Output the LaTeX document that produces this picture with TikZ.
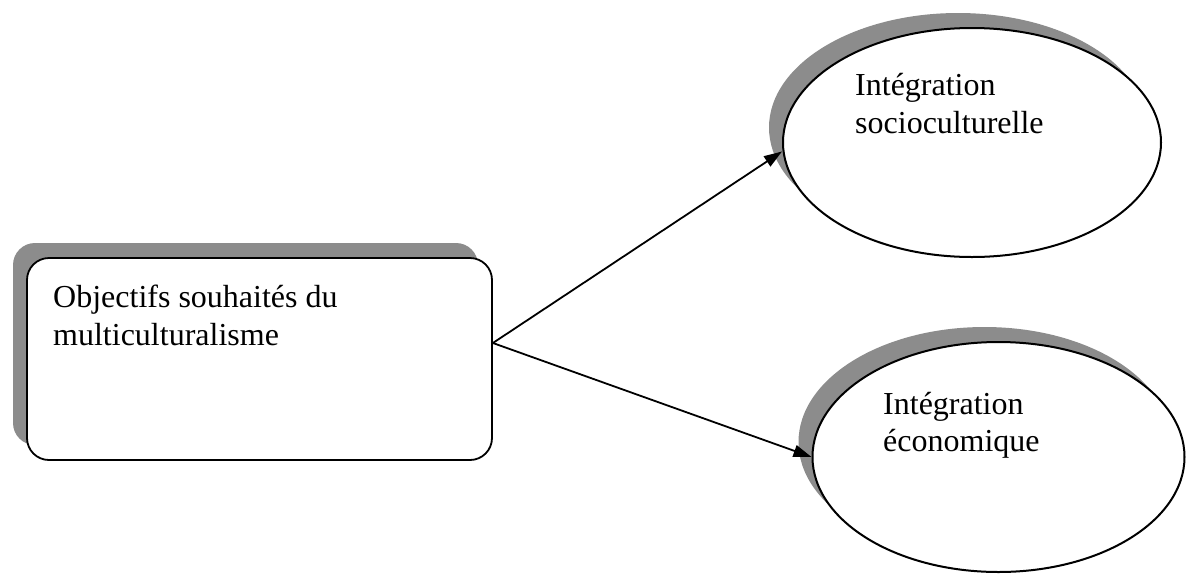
\documentclass[tikz,border=0pt]{standalone}
\usepackage{fontspec}
\setmainfont{Liberation Serif}
\usetikzlibrary{shapes.geometric,shadows,arrows.meta,calc}
\begin{document}
\begin{tikzpicture}[x=1pt,y=-1pt,
  shade/.style={general shadow={fill=black!45,shadow xshift=-14pt,shadow yshift=15pt}},
  boxnode/.style={draw,line width=1.8pt,fill=white,rounded corners=22pt,inner sep=0pt,
     minimum width=465pt,minimum height=202pt,shade},
  ovalnode/.style={draw,ellipse,line width=2pt,fill=white,inner sep=0pt,shade},
  lbl/.style={anchor=base west,inner sep=0pt,font=\fontsize{32}{38}\selectfont},
  arr/.style={line width=1.8pt,-{Triangle[length=18pt,width=12pt]}}]
\useasboundingbox (0,0) rectangle (1187,574);
\node[boxnode] (box) at (259.5,359) {};
\node[ovalnode,minimum width=378pt,minimum height=229pt] (e1) at (972,142.5) {};
\node[ovalnode,minimum width=372pt,minimum height=230pt] (e2) at (998.5,457) {};
\node[lbl] (t1) at (53,307) {Objectifs souhaités du};
\node[lbl] (t2) at (53,345) {multiculturalisme};
\node[lbl] (t3) at (855,95) {Intégration};
\node[lbl] (t4) at (855,133) {socioculturelle};
\node[lbl] (t5) at (883,414) {Intégration};
\node[lbl] (t6) at (883,451) {économique};
\coordinate (src) at ($(box.east)+(0,-16)$);
\coordinate (d1) at ($(e1.west)+(0,9)$);
\draw[arr] (src) -- (d1);
\draw[arr] (src) -- (e2.west);
\end{tikzpicture}
\end{document}
